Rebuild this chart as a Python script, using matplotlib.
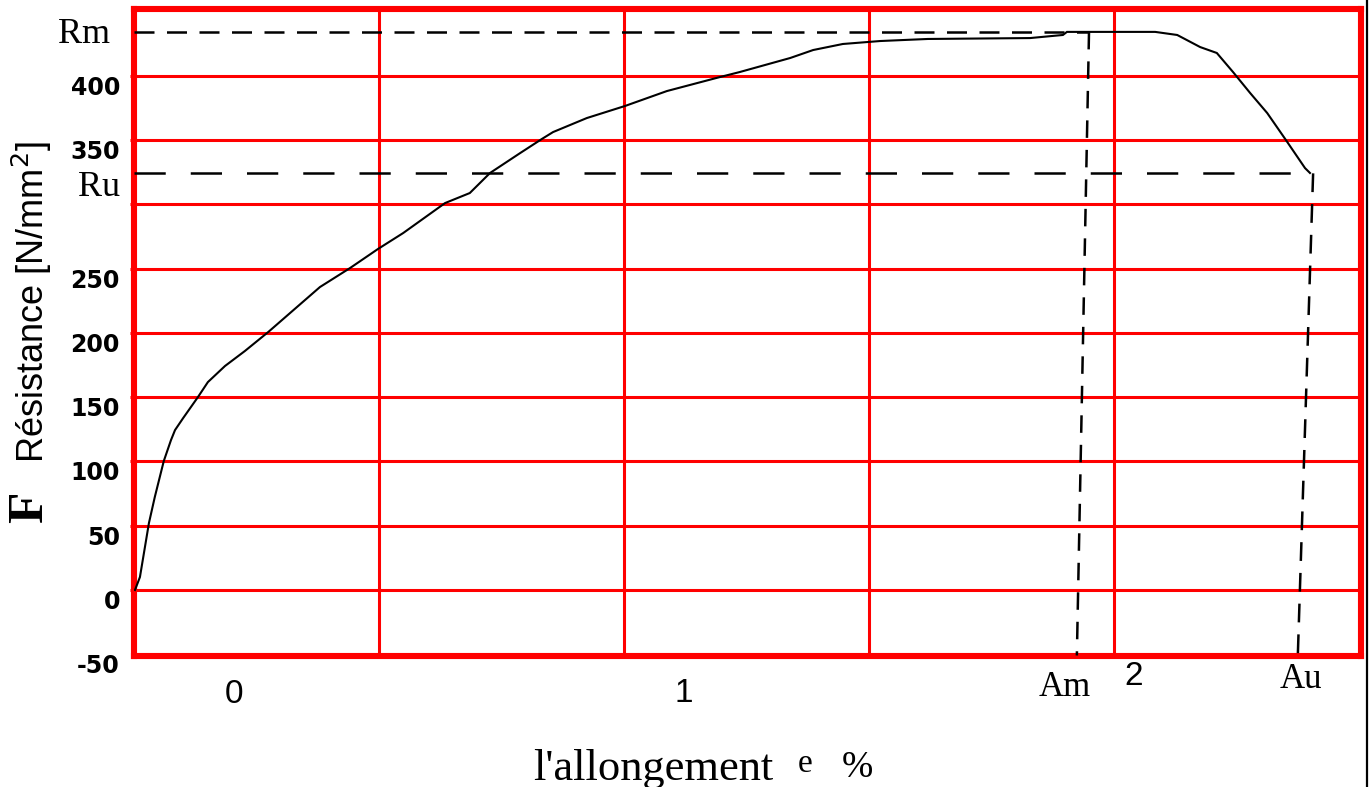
import matplotlib
matplotlib.use("Agg")
import matplotlib.pyplot as plt
from matplotlib.lines import Line2D
from matplotlib import transforms

# Tensile test curve: elongation (%) vs. resistance (N/mm²)
elongation = [-0.220, -0.209, -0.189, -0.176, -0.156, -0.140, -0.131, -0.113,
              -0.080, -0.058, -0.020, 0.024, 0.076, 0.191, 0.258, 0.320,
              0.376, 0.469, 0.524, 0.569, 0.636, 0.684, 0.709, 0.784,
              0.869, 0.962, 1.080, 1.124, 1.236, 1.287, 1.353, 1.436,
              1.542, 1.769, 1.842, 1.851, 2.047, 2.096, 2.147, 2.184,
              2.220, 2.258, 2.296, 2.336, 2.380, 2.391]
resistance = [0.0, 10.1, 52.1, 72.3, 100.3, 116.6, 124.4, 133.7,
              150.1, 161.7, 174.2, 185.8, 200.6, 235.6, 250.4, 265.2,
              277.6, 300.9, 308.7, 324.3, 339.8, 350.7, 356.1, 367.0,
              376.4, 388.0, 398.9, 402.8, 413.7, 419.9, 424.6, 426.9,
              428.5, 429.2, 431.6, 434.0, 434.0, 431.6, 422.2, 417.6,
              402.8, 386.5, 370.9, 350.7, 328.1, 324.3]

# Characteristic values
Rm = 434.0
Ru = 324.0
am_x = [1.900, 1.873]   # Am line (top, bottom)
au_x = [2.398, 2.364]   # Au line (top, bottom)

# Axis ranges, grid and labels
x_range = (-0.2233, 2.5044)
y_range = (-50.9, 451.8)
grid_x = [0.3229, 0.8667, 1.4118, 1.9562]
grid_y = [0, 50, 100, 150, 200, 250, 300, 350, 400]
y_tick_values = [400, 350, 250, 200, 150, 100, 50, 0, -50]
y_tick_labels = ["400", "350", "250", "200", "150", "100", "50", "0", "-50"]
x_tick_values = [0, 1, 2]
x_tick_labels = ["0", "1", "2"]

RED = "#ff0000"
SERIF = ["Liberation Serif", "DejaVu Serif"]
SANS = ["Liberation Sans", "DejaVu Sans"]

W, H = 1370, 787
fig = plt.figure(figsize=(W / 100, H / 100), dpi=100)
fig.patch.set_facecolor("white")

left_px, right_px, top_px, bottom_px = 133.5, 1361.0, 9.0, 655.5
ax = fig.add_axes([left_px / W, 1 - bottom_px / H,
                   (right_px - left_px) / W, (bottom_px - top_px) / H])
ax.set_xlim(*x_range)
ax.set_ylim(*y_range)

for s in ax.spines.values():
    s.set_color(RED)
    s.set_linewidth(4.4)

ax.set_xticks(grid_x)
ax.set_yticks(grid_y)
ax.set_xticklabels([])
ax.set_yticklabels([])
ax.tick_params(axis="x", length=0)
ax.tick_params(axis="y", length=3, width=2.2, color=RED)
ax.grid(True, color=RED, linewidth=2.2)
ax.set_axisbelow(True)

# Reference dashed lines
ax.plot([x_range[0], am_x[0]], [Rm, Rm], color="black", lw=1.8,
        dashes=(8, 5), zorder=3)
ax.plot([x_range[0], 2.388], [Ru, Ru], color="black", lw=1.8,
        dashes=(12.5, 10), zorder=3)
ax.plot(am_x, [Rm, y_range[0]], color="black", lw=1.8,
        dashes=(7, 4.8), zorder=3)
ax.plot(au_x, [Ru, y_range[0]], color="black", lw=1.8,
        dashes=(7.5, 4.8), zorder=3)

# Curve
ax.plot(elongation, resistance, color="black", lw=1.5, zorder=4,
        solid_joinstyle="miter")

# Y tick labels (left of the frame)
ytr = transforms.blended_transform_factory(fig.transFigure, ax.transData)
for v, lab in zip(y_tick_values, y_tick_labels):
    fig.text(120 / W, v, lab, transform=ytr, ha="right", va="top",
             fontsize=17, fontweight="bold", family=["DejaVu Sans"])
fig.text(110 / W, Rm, "Rm",
         transform=transforms.offset_copy(ytr, fig=fig, x=0, y=-3, units="dots"),
         ha="right", va="center", fontsize=26, family=SERIF)
fig.text(120 / W, Ru, "Ru",
         transform=transforms.offset_copy(ytr, fig=fig, x=0, y=2, units="dots"),
         ha="right", va="top", fontsize=26, family=SERIF)

# X tick labels (below the frame)
xtr = transforms.blended_transform_factory(ax.transData, fig.transFigure)
x_label_heights = [694.5, 693.5, 676.5]
for v, lab, yp in zip(x_tick_values, x_tick_labels, x_label_heights):
    fig.text(v, 1 - yp / H, lab, transform=xtr, ha="center", va="center",
             fontsize=24, family=SANS)
fig.text(am_x[1], 1 - 688 / H, "Am",
         transform=transforms.offset_copy(xtr, fig=fig, x=-12, y=0, units="dots"),
         ha="center", va="center", fontsize=25, family=SERIF)
fig.text(au_x[1], 1 - 679 / H, "Au",
         transform=transforms.offset_copy(xtr, fig=fig, x=3, y=0, units="dots"),
         ha="center", va="center", fontsize=25, family=SERIF)

# Axis titles
fig.text(653 / W, 1 - 780 / H, "l'allongement", ha="center", va="baseline",
         fontsize=32, family=SERIF)
fig.text(805 / W, 1 - 772 / H, "e", ha="center", va="baseline",
         fontsize=24, family=SERIF)
fig.text(857 / W, 1 - 777 / H, "%", ha="center", va="baseline",
         fontsize=27, family=SERIF)

fig.text(30 / W, 1 - 507 / H, "F", rotation=90, ha="center", va="center",
         fontsize=37, fontweight="bold", family=SERIF)
fig.text(32 / W, 1 - 302 / H, "Résistance [N/mm$^2$]", rotation=90,
         ha="center", va="center", fontsize=26, family=SANS)

# Right edge rule
fig.add_artist(Line2D([1367 / W, 1367 / W], [0, 1], color="black", lw=1.6,
                      transform=fig.transFigure, zorder=10))

fig.savefig("out.png", dpi=100, facecolor="white")
